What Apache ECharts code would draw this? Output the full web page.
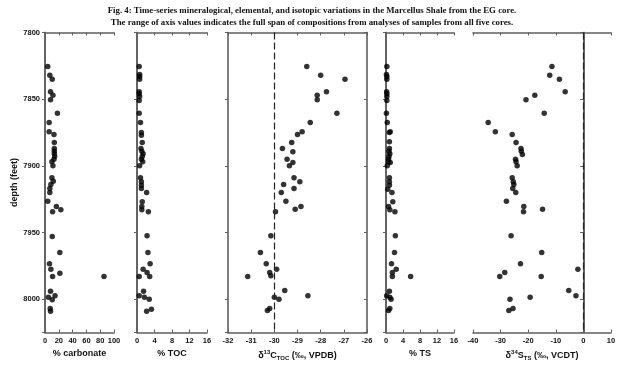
<!DOCTYPE html>
<html>
<head>
<meta charset="utf-8">
<script src="https://cdn.jsdelivr.net/npm/echarts@6/dist/echarts.min.js"></script>
<style>
  html, body { margin: 0; padding: 0; background: #fff; }
  #chart { width: 624px; height: 369px; }
</style>
</head>
<body>
<div id="chart"></div>
<script>
// depth in feet
var carbDepth = [7825.5, 7832, 7835, 7844.5, 7847, 7850.5, 7860.5, 7867.5, 7874.5, 7876.5, 7882.5, 7887, 7889, 7891, 7893, 7895, 7897, 7900, 7909, 7911.5, 7914, 7917, 7920, 7926.5, 7930.5, 7933, 7934.5, 7953, 7965, 7973.5, 7977.5, 7980.5, 7983, 7983, 7994, 7997.5, 7998.5, 8000.5, 8007, 8009];
var carbPct = [4, 7, 10.5, 8, 11.5, 8, 18, 6, 6, 13, 13.5, 13.5, 13.5, 13.5, 14, 13, 10, 11.5, 10, 12, 8.5, 7, 7, 4, 16.5, 23, 11, 10.5, 21.5, 6.5, 8.5, 21.5, 11, 85.5, 8, 14.5, 5, 10.5, 7.5, 8];

var tocDepth = [7825.5, 7831.5, 7833, 7835, 7844.5, 7846, 7848, 7851, 7860.5, 7867.5, 7875, 7877, 7882.5, 7887, 7889, 7891, 7893, 7895, 7897, 7900, 7909, 7912, 7914.5, 7917, 7920, 7927, 7930.5, 7933, 7934.5, 7952.5, 7965, 7973.5, 7977.5, 7980, 7983, 7983, 7994, 7997.5, 7998.5, 8000, 8007.5, 8009];
var tocPct = [0.5, 0.6, 0.6, 0.6, 0.5, 0.5, 0.6, 0.5, 0.5, 0.8, 1.0, 1.0, 1.2, 0.9, 1.1, 1.4, 1.2, 1.0, 1.3, 0.6, 0.8, 1.0, 1.0, 1.0, 2.2, 1.2, 1.1, 1.1, 2.6, 2.3, 2.5, 3.0, 1.4, 2.3, 2.9, 0.5, 1.5, 0.5, 1.7, 2.8, 3.3, 2.2];

var c13Depth = [7825.5, 7832, 7835, 7844.5, 7847, 7850.5, 7860.5, 7867.5, 7874.5, 7876.5, 7882.5, 7887, 7889.5, 7895, 7897.5, 7900, 7909, 7912, 7914, 7917, 7920, 7926.5, 7930.5, 7932.5, 7934.5, 7952.5, 7965, 7973.5, 7977.5, 7980, 7982.5, 7983, 7993.5, 7997.5, 7998.5, 8000, 8007, 8008.5];
var c13Toc = [-28.6, -28.0, -26.95, -27.75, -28.15, -28.15, -27.3, -28.45, -28.8, -29.0, -29.25, -29.65, -29.2, -29.45, -29.2, -29.35, -29.15, -28.9, -29.6, -29.15, -29.7, -29.5, -28.85, -29.1, -29.95, -30.15, -30.6, -30.35, -29.9, -30.2, -30.15, -31.15, -29.55, -28.55, -30.0, -29.8, -30.2, -30.3];

var tsDepth = [7825.5, 7831.5, 7833, 7835, 7844.5, 7846, 7848, 7851, 7860.5, 7867.5, 7874.5, 7875, 7882, 7887, 7889, 7891, 7893, 7895, 7897, 7897.5, 7900, 7909, 7912, 7914.5, 7917.5, 7920, 7927, 7930.5, 7933, 7934.5, 7952.5, 7965, 7973.5, 7977.5, 7980, 7983, 7983, 7994, 7997.5, 7998.5, 8000, 8007, 8008.5];
var tsPct = [0.2, 0.1, 0.2, 0.2, 0.15, 0.2, 0.2, 0.2, 0.1, 0.3, 1.0, 0.8, 0.8, 0.8, 0.7, 0.9, 0.7, 0.6, 0.6, 1.0, 0.3, 0.8, 0.8, 0.8, 0.4, 1.4, 1.6, 0.6, 0.9, 2.1, 2.2, 2.0, 1.3, 2.4, 1.5, 1.5, 5.8, 0.8, 0.15, 0.9, 1.2, 0.9, 0.6];

var s34Depth = [7825.5, 7832, 7835, 7844.5, 7847, 7850.5, 7860.5, 7867.5, 7874.5, 7876.5, 7882.5, 7887, 7889, 7891.5, 7895, 7897, 7900, 7909, 7912, 7914, 7917, 7920, 7926.5, 7930.5, 7932.5, 7934.5, 7952.5, 7965, 7973.5, 7977.5, 7980, 7983, 7983, 7993.5, 7997.5, 7998.5, 8000, 8007, 8008.5];
var s34Ts = [-11.4, -12.2, -8.7, -6.6, -17.6, -20.8, -14.2, -34.5, -31.9, -25.8, -24.4, -22.6, -22.5, -22.1, -24.6, -24.4, -24.0, -25.8, -25.4, -25.2, -25.6, -24.5, -27.9, -21.6, -14.8, -21.7, -26.2, -15.1, -22.8, -2.0, -28.5, -30.3, -15.3, -5.3, -2.7, -19.3, -26.6, -25.5, -27.0];

var depthMin = 7800, depthMax = 8025, depthStep = 50;

var titleLines = [
  "Fig. 4: Time-series mineralogical, elemental, and isotopic variations in the Marcellus Shale from the EG core.",
  "The range of axis values indicates the full span of compositions from analyses of samples from all five cores."
];

var panels = [
  { name: "% carbonate", x: carbPct, y: carbDepth, min: 0, max: 100, step: 20, left: 45, width: 69 },
  { name: "% TOC", x: tocPct, y: tocDepth, min: 0, max: 16, step: 4, left: 137, width: 70 },
  { name: "{n|δ}{sup|13}{n|C}{sub|TOC}{n| (‰, VPDB)}", x: c13Toc, y: c13Depth, min: -32, max: -26, step: 1, left: 228, width: 139, ref: -30 },
  { name: "% TS", x: tsPct, y: tsDepth, min: 0, max: 16, step: 4, left: 386, width: 68 },
  { name: "{n|δ}{sup|34}{n|S}{sub|TS}{n| (‰, VCDT)}", x: s34Ts, y: s34Depth, min: -40, max: 10, step: 10, left: 473, width: 138, ref: 0 }
];

var lineColor = "#5f5f5f";
var font = "Liberation Sans";
var nameRich = {
  n: { fontFamily: font, fontWeight: "bold", fontSize: 9, color: "#111" },
  sup: { fontFamily: font, fontWeight: "bold", fontSize: 6, color: "#111", padding: [0, 0, 6, 0] },
  sub: { fontFamily: font, fontWeight: "bold", fontSize: 6, color: "#111", padding: [5, 0, 0, 0] }
};

var grids = [], xAxes = [], yAxes = [], series = [];
panels.forEach(function (p, i) {
  grids.push({ left: p.left, width: p.width, top: 32.5, bottom: 36.5 });
  var axisLine = { show: true, lineStyle: { color: lineColor, width: 1.6 } };
  var tick = { show: true, inside: true, length: 3, lineStyle: { color: lineColor } };
  // bottom axis with labels
  xAxes.push({
    gridIndex: i, type: "value", position: "bottom",
    min: p.min, max: p.max, interval: p.step,
    name: p.name, nameLocation: "middle", nameGap: 17,
    nameTextStyle: { fontFamily: font, fontWeight: "bold", fontSize: 9, color: "#111", rich: nameRich },
    axisLine: axisLine, axisTick: tick, splitLine: { show: false },
    axisLabel: { fontFamily: font, fontWeight: "bold", fontSize: 7.5, color: "#111", margin: 4 }
  });
  // top frame
  xAxes.push({
    gridIndex: i, type: "value", position: "top",
    min: p.min, max: p.max, interval: p.step,
    axisLine: axisLine, axisTick: tick, splitLine: { show: false },
    axisLabel: { show: false }
  });
  yAxes.push({
    gridIndex: i, type: "value", position: "left", inverse: true,
    min: depthMin, max: depthMax, interval: depthStep,
    name: i === 0 ? "depth (feet)" : "", nameLocation: "middle", nameGap: 24,
    nameTextStyle: { fontFamily: font, fontWeight: "bold", fontSize: 9, color: "#111" },
    axisLine: axisLine,
    axisTick: { show: true, inside: false, length: 3, lineStyle: { color: lineColor } },
    splitLine: { show: false },
    axisLabel: {
      show: i === 0, fontFamily: font, fontWeight: "bold", fontSize: 7.5, color: "#111", margin: 5,
      formatter: function (v) { return v % depthStep === 0 ? String(v) : ""; }
    }
  });
  yAxes.push({
    gridIndex: i, type: "value", position: "right", inverse: true,
    min: depthMin, max: depthMax, interval: depthStep,
    axisLine: axisLine, axisTick: tick, splitLine: { show: false },
    axisLabel: { show: false }
  });
  var s = {
    type: "scatter",
    xAxisIndex: 2 * i, yAxisIndex: 2 * i,
    symbolSize: 5.5,
    itemStyle: { color: "#000" },
    data: p.x.map(function (v, k) { return [v, p.y[k]]; })
  };
  if (p.ref !== undefined) {
    s.markLine = {
      silent: true, symbol: "none", label: { show: false },
      lineStyle: { color: "#222", width: 1.2, type: [7, 3] },
      data: [{ xAxis: p.ref }]
    };
  }
  series.push(s);
});

var myChart = echarts.init(document.getElementById("chart"));
var option = {
  animation: false,
  title: titleLines.map(function (t, i) {
    return {
      text: t, left: "center", top: 1 + i * 12,
      textStyle: { fontFamily: "Liberation Serif", fontWeight: "bold", fontSize: 8.8, color: "#111" }
    };
  }),
  grid: grids,
  xAxis: xAxes,
  yAxis: yAxes,
  series: series
};
myChart.setOption(option);
</script>
</body>
</html>
